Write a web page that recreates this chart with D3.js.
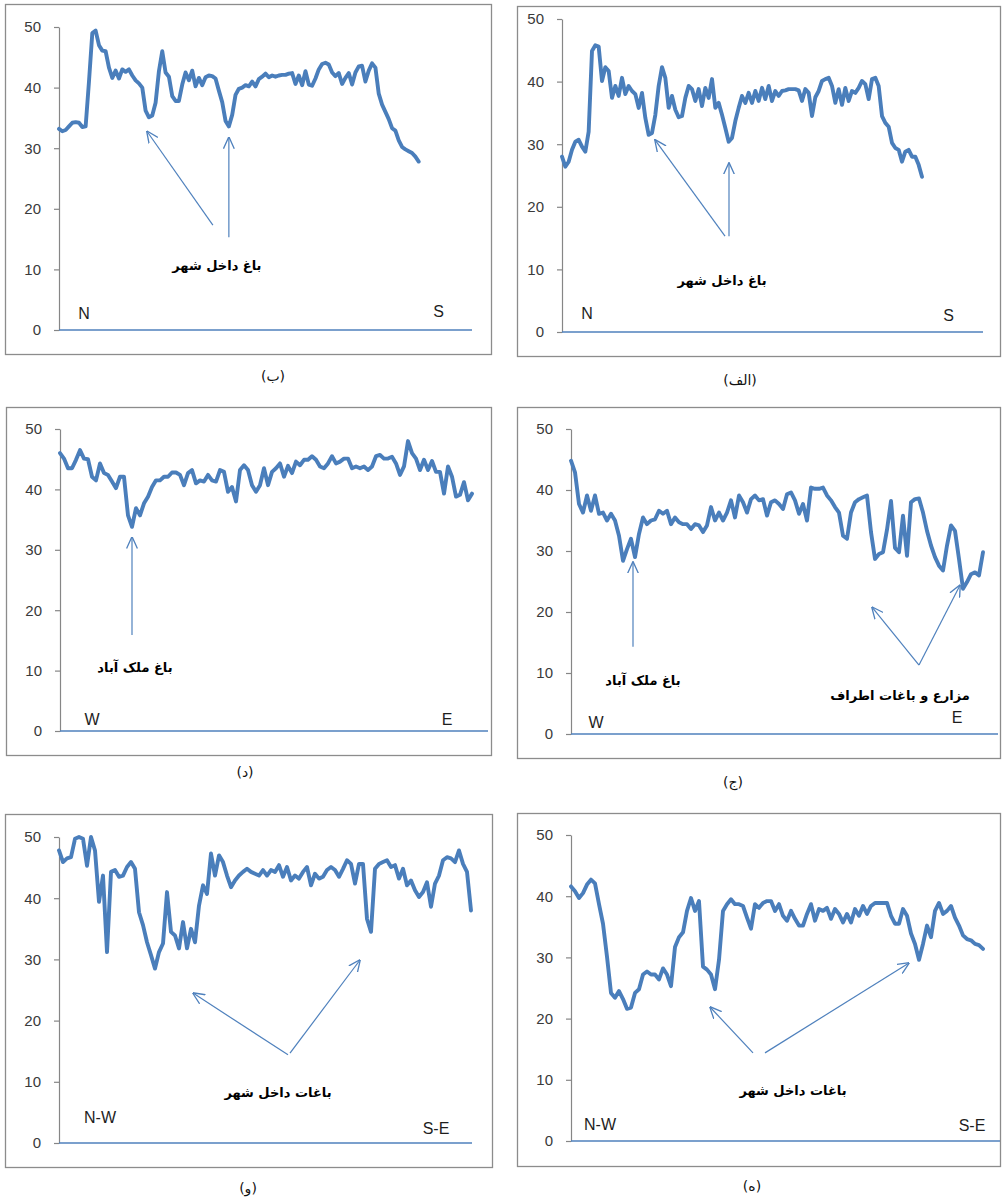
<!DOCTYPE html>
<html>
<head>
<meta charset="utf-8">
<script src="https://cdn.jsdelivr.net/npm/d3@7.9.0/dist/d3.min.js"></script>
<style>
  body { margin: 0; background: #fff; }
  svg { display: block; }
</style>
</head>
<body>
<svg id="chart" width="1002" height="1201"></svg>
<script>
// ---- values read along each transect (equal sample spacing) ----
const profileAlef = [
  28.0, 26.4, 27.2, 29.1, 30.4, 30.7, 29.6, 28.8, 32, 44.9,
  45.8, 45.6, 40.1, 42.3, 41.7, 37.4, 39.3, 37.7, 40.6, 38,
  39.3, 38.5, 38, 35.8, 38.2, 34.2, 31.5, 31.8, 34.7, 39.3,
  42.3, 40.6, 35.8, 37.7, 35.5, 34.3, 34.5, 37.4, 39.3, 38.8,
  36.9, 38.8, 36.1, 39, 37.4, 40.4, 35.8, 36.6, 34.7, 32.6,
  30.4, 31, 33.7, 35.8, 37.7, 36.6, 38.2, 36.6, 38.5, 36.9,
  39, 37.2, 39.3, 36.9, 38.5, 37.7, 38.5, 38.6, 38.8, 38.8,
  38.8, 38.6, 36.9, 38.8, 38.2, 34.5, 37.5, 38.5, 40.1, 40.4,
  40.6, 39.3, 36.6, 38.8, 36.3, 39, 36.9, 38.5, 38.2, 39,
  40.1, 39.6, 37.2, 40.4, 40.6, 39.3, 34.5, 33.4, 32.8, 30.2,
  29.4, 29.1, 27.2, 28.8, 29.1, 28, 28, 26.7, 24.8
];
const profileBe = [
  33.2, 32.8, 33.0, 33.6, 34.2, 34.3, 34.2, 33.5, 33.6, 41,
  49, 49.4, 47, 46.1, 46, 43.3, 41.6, 42.8, 41.5, 43,
  42.6, 43, 42, 41.2, 40.7, 40, 36.2, 35.1, 35.4, 37.5,
  42.7, 46, 42.5, 41.8, 38.6, 37.8, 37.8, 40.5, 42.5, 41.2,
  42.8, 40.2, 41.6, 40.4, 41.7, 42, 41.9, 41.5, 39.5, 37.6,
  34.5, 33.6, 35.5, 38.8, 39.8, 40, 40.4, 40.2, 41, 40.2,
  41.4, 41.8, 42.3, 41.7, 42, 41.8, 42, 42.1, 42.1, 42.3,
  42.4, 40.6, 42, 40.4, 42.7, 40.5, 40.3, 41.5, 43, 43.9,
  44.1, 43.8, 42.5, 41.9, 42.4, 40.6, 41.6, 42.4, 40.5, 42.5,
  43.5, 43.6, 41, 42.8, 44, 43.3, 39, 37.2, 36, 34.8,
  33.3, 32.9, 31.3, 30.2, 29.8, 29.5, 29.2, 28.6, 27.8
];
const profileJim = [
  44.8, 42.9, 37.7, 36.3, 39.1, 36.6, 39.1, 36.1, 36.3, 35,
  36.1, 35, 32.5, 28.4, 30.3, 32, 29, 32.8, 35.5, 34.4,
  35, 35.2, 36.6, 36.1, 36.6, 34.4, 35.5, 34.7, 34.4, 34.4,
  33.6, 34.4, 34.2, 33.1, 34.2, 37.2, 35, 36.3, 35, 36.3,
  38.3, 35.5, 39.1, 38, 36.3, 38.5, 39.1, 38.3, 38.5, 35.8,
  38, 38.3, 37.7, 36.9, 39.3, 39.6, 38.3, 36.1, 37.7, 35,
  40.4, 40.2, 40.2, 40.4, 39.1, 38.3, 37.2, 36.3, 32.5, 32,
  36.3, 38, 38.5, 38.8, 39.1, 33.1, 28.7, 29.5, 29.8, 33.5,
  38.2, 30.5, 29.8, 35.8, 29.2, 38, 38.5, 38.6, 36.3, 33.3,
  30.9, 29, 27.6, 26.8, 30.9, 34.2, 33.3, 28.7, 23.8, 24.9,
  26.2, 26.5, 26, 29.8
];
const profileDal = [
  46, 45.1, 43.5, 43.5, 44.9, 46.5, 45.1, 45, 42.1, 41.5,
  44.3, 42.7, 42.4, 41.3, 40.2, 42.1, 42.1, 35.7, 33.8, 36.9,
  35.7, 37.7, 38.8, 40.4, 41.5, 41.5, 42.1, 42.1, 42.8, 42.8,
  42.4, 40.7, 42.7, 43.2, 41, 41.5, 41.3, 42.4, 41.5, 41.3,
  43.2, 42.9, 39.6, 40.4, 38, 43.2, 44, 43.2, 40.7, 39.6,
  40.7, 43.5, 40.7, 42.9, 43.5, 44.3, 42.1, 43.9, 42.7, 44.6,
  44, 44.9, 44.9, 45.5, 44.9, 43.8, 43.5, 44.3, 45.5, 44.3,
  44.6, 45.1, 45.1, 43.5, 43.8, 43.5, 43.8, 43.2, 43.8, 45.5,
  45.7, 45.1, 45.1, 45.4, 44.3, 42.4, 43.8, 48, 46, 45.1,
  43.2, 44.9, 43.2, 44.7, 42.9, 42.9, 39.3, 43.8, 42.1, 38.8,
  39.1, 41.2, 38.2, 39.3
];
const profileHe = [
  41.6, 40.8, 39.7, 40.5, 41.9, 42.7, 42.1, 38.7, 35.5, 30.1,
  24.2, 23.4, 24.5, 23.2, 21.6, 21.8, 24.2, 24.8, 27.2, 27.7,
  27.2, 27.2, 26.4, 28.2, 27.2, 25.3, 31.7, 33.3, 34.1, 37.6,
  39.7, 37.6, 39.2, 28.5, 28, 27.2, 24.8, 29.6, 37.6, 38.7,
  39.5, 38.7, 38.7, 38.4, 36.5, 34.7, 38.7, 38.1, 38.9, 39.2,
  39.2, 37.6, 38.7, 36.8, 36, 37.6, 36.3, 35.2, 35.2, 37.1,
  38.7, 36, 37.9, 37.6, 38.1, 36.3, 37.9, 37.1, 35.7, 37.1,
  35.7, 37.9, 36.8, 38.4, 37.1, 38.4, 38.9, 38.9, 38.9, 38.9,
  36.8, 35.5, 35.5, 37.9, 36.8, 33.9, 32.2, 29.6, 32.2, 35.2,
  33.3, 37.6, 38.9, 37.1, 37.6, 38.4, 36.5, 35.2, 33.6, 33,
  32.8, 32.2, 32, 31.4
];
const profileVav = [
  47.8, 45.9, 46.5, 46.7, 49.7, 50, 49.7, 45.3, 50, 47.8,
  39.4, 43.7, 31.2, 44.3, 44.6, 43.5, 43.7, 45.1, 45.9, 44.8,
  37.7, 35.6, 32.8, 30.7, 28.5, 31.2, 32.6, 41, 34.5, 33.9,
  31.8, 36.1, 31.8, 35, 32.8, 38.8, 42.1, 40.7, 47.3, 43.7,
  47, 45.9, 43.7, 41.8, 42.9, 43.7, 44.3, 44.8, 44.3, 44,
  43.7, 44.6, 43.7, 44.6, 44.3, 45.4, 43.5, 45.1, 42.9, 43.7,
  43.2, 44.3, 45.1, 42.1, 44, 43.2, 43.5, 44.6, 45.1, 44.6,
  43.5, 44.8, 46.2, 45.6, 42.4, 45.6, 45.6, 36.6, 34.5, 44.8,
  45.6, 45.9, 46.2, 45.1, 45.4, 43.2, 44.8, 42.1, 42.9, 41.3,
  40.2, 41, 42.6, 38.6, 42.4, 43.7, 46.2, 46.7, 46.5, 45.9,
  47.8, 45.6, 44.3, 38
];

const yTicks = [0, 10, 20, 30, 40, 50];
const captions = ["(الف)", "(ب)", "(ج)", "(د)", "(ه)", "(و)"];
const noteCity = "باغ داخل شهر";
const noteMalek = "باغ ملک آباد";
const noteFarms = "مزارع و باغات اطراف";
const noteGardens = "باغات داخل شهر";

// ---- layout of the six panels (annotation spots are in data units) ----
const panels = [
  { data: profileAlef, caption: captions[0], cap: [740, 385],
    frame: [517, 6, 483, 350], plot: [562, 983, 19, 332], slots: 126.3,
    dirs: [["N", 7.5, 2.1], ["S", 116, 1.8]],
    arrows: [[48.9, 15.3, 27.9, 30.7], [50.1, 15.3, 50.1, 27]],
    notes: [[noteCity, 48, 7.5]] },
  { data: profileBe, caption: captions[1], cap: [273, 381],
    frame: [5, 4, 486, 350], plot: [59, 472, 27, 330], slots: 124,
    dirs: [["N", 7.5, 1.8], ["S", 114, 2.1]],
    arrows: [[46.2, 17.3, 26.4, 32.8], [51, 15.3, 51, 31.8]],
    notes: [[noteCity, 47.4, 9.9]] },
  { data: profileJim, caption: captions[2], cap: [733, 787],
    frame: [517, 407, 483, 351], plot: [571, 998, 429, 734], slots: 106.75,
    dirs: [["W", 6.25, 1], ["E", 96.5, 1.8]],
    arrows: [[15.5, 14.3, 15.5, 28.2], [87, 11.3, 75.25, 20.8], [87, 11.3, 97.25, 24.4]],
    notes: [[noteMalek, 18, 8], [noteFarms, 82.25, 5.6]] },
  { data: profileDal, caption: captions[3], cap: [245, 777],
    frame: [6, 407, 485, 348], plot: [60, 488, 429, 731], slots: 107,
    dirs: [["W", 8, 1], ["E", 96.8, 1]],
    arrows: [[18, 15.9, 18, 32.1]],
    notes: [[noteMalek, 18.75, 9.8]] },
  { data: profileHe, caption: captions[4], cap: [752, 1191],
    frame: [517, 813, 483, 353], plot: [571, 1000, 835, 1141], slots: 107.25,
    dirs: [["N-W", 7.25, 1.8], ["S-E", 100.25, 1.6]],
    arrows: [[45.5, 14.4, 34.75, 21.9], [48.5, 14.4, 84.5, 29.1]],
    notes: [[noteGardens, 55.5, 7.5]] },
  { data: profileVav, caption: captions[5], cap: [248, 1193],
    frame: [5, 814, 487, 353], plot: [59, 472, 837, 1143], slots: 103.25,
    dirs: [["N-W", 10.25, 3.3], ["S-E", 94.25, 1.5]],
    arrows: [[57.25, 14.4, 33.5, 24.5], [57.75, 14.7, 75.25, 29.9]],
    notes: [[noteGardens, 54.75, 7.5]] }
];

const lineBlue = "#4a7ebb";
const axisBlue = "#4f81bd";

const svg = d3.select("#chart");

svg.append("defs").append("marker")
  .attr("id", "head")
  .attr("viewBox", "0 0 10 10")
  .attr("refX", 9.5).attr("refY", 5)
  .attr("markerWidth", 12).attr("markerHeight", 12)
  .attr("markerUnits", "userSpaceOnUse")
  .attr("orient", "auto")
  .append("path")
  .attr("d", "M0,0.5 L10,5 L0,9.5")
  .attr("fill", "none")
  .attr("stroke", axisBlue)
  .attr("stroke-width", 1.1);

panels.forEach((p) => {
  const g = svg.append("g");
  const [fx, fy, fw, fh] = p.frame;
  const [left, right, top, bottom] = p.plot;

  // outer frame
  g.append("rect")
    .attr("x", fx + 0.5).attr("y", fy + 0.5)
    .attr("width", fw).attr("height", fh)
    .attr("fill", "none")
    .attr("stroke", "#8c8c8c")
    .attr("stroke-width", 1.3);

  const x = d3.scaleLinear().domain([0, p.slots]).range([left, right]);
  const y = d3.scaleLinear().domain([0, 50]).range([bottom, top]);

  // y axis
  g.append("g")
    .attr("transform", `translate(${left},0)`)
    .call(d3.axisLeft(y).tickValues(yTicks).tickSize(5).tickSizeOuter(0).tickPadding(13))
    .call((a) => {
      a.attr("font-family", "'Liberation Sans', Arial, sans-serif").attr("font-size", 15);
      a.select(".domain").attr("stroke", "#868686").attr("stroke-width", 1.2);
      a.selectAll(".tick line").attr("stroke", "#868686").attr("stroke-width", 1.2);
      a.selectAll(".tick text").attr("fill", "#3a3a3a");
    });

  // x axis line
  g.append("line")
    .attr("x1", left).attr("x2", right)
    .attr("y1", y(0)).attr("y2", y(0))
    .attr("stroke", axisBlue)
    .attr("stroke-width", 1.6);

  // profile line
  const line = d3.line()
    .x((d, i) => x(i))
    .y((d) => y(d))
    .curve(d3.curveLinear);

  g.append("path")
    .datum(p.data)
    .attr("d", line)
    .attr("fill", "none")
    .attr("stroke", lineBlue)
    .attr("stroke-width", 3.9)
    .attr("stroke-linejoin", "round")
    .attr("stroke-linecap", "round");

  // direction labels
  g.selectAll(".dir")
    .data(p.dirs)
    .join("text")
    .attr("x", (d) => x(d[1]))
    .attr("y", (d) => y(d[2]))
    .attr("text-anchor", "middle")
    .attr("font-family", "'Liberation Sans', Arial, sans-serif")
    .attr("font-size", 16)
    .attr("fill", "#1e1e1e")
    .text((d) => d[0]);

  // arrows
  g.selectAll(".arrow")
    .data(p.arrows)
    .join("line")
    .attr("x1", (d) => x(d[0])).attr("y1", (d) => y(d[1]))
    .attr("x2", (d) => x(d[2])).attr("y2", (d) => y(d[3]))
    .attr("stroke", axisBlue)
    .attr("stroke-width", 1.2)
    .attr("marker-end", "url(#head)");

  // annotation text
  g.selectAll(".note")
    .data(p.notes)
    .join("text")
    .attr("x", (d) => x(d[1]))
    .attr("y", (d) => y(d[2]))
    .attr("text-anchor", "middle")
    .attr("direction", "rtl")
    .attr("font-family", "'DejaVu Sans', sans-serif")
    .attr("font-weight", "bold")
    .attr("font-size", 13)
    .attr("fill", "#000")
    .text((d) => d[0]);

  // caption under the frame
  g.append("text")
    .attr("x", p.cap[0]).attr("y", p.cap[1])
    .attr("text-anchor", "middle")
    .attr("font-family", "'DejaVu Sans', sans-serif")
    .attr("font-size", 14)
    .attr("fill", "#111")
    .text(p.caption);
});
</script>
</body>
</html>
